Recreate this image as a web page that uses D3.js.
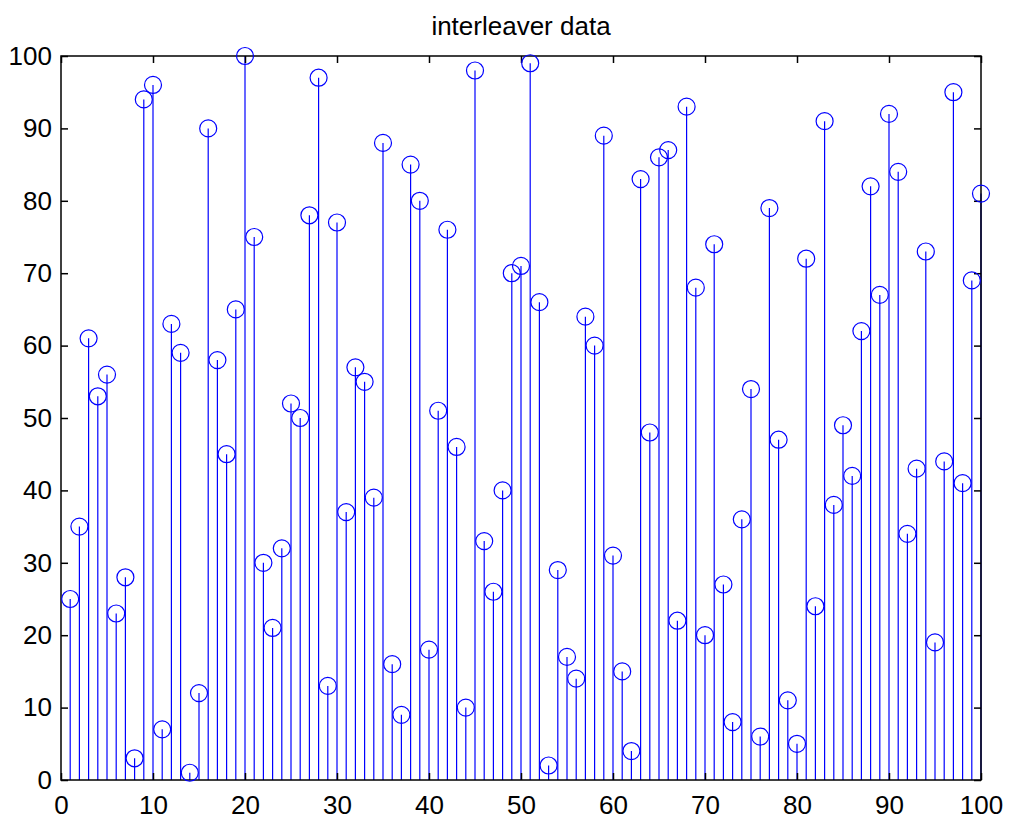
<!DOCTYPE html>
<html lang="en">
<head>
  <meta charset="UTF-8">
  <title>interleaver data</title>
  <script src="https://d3js.org/d3.v7.min.js"></script>
  <style>
    body { margin: 0; background: #fff; }
    svg { display: block; font-family: "Liberation Sans", Arial, sans-serif; }
    .stem { stroke: #0000ff; stroke-width: 1.2px; }
    .head { fill: none; stroke: #0000ff; stroke-width: 1.2px; }
    .axis path { display: none; }
    .axis line { stroke: #000; stroke-width: 1.5px; }
    .axis text { font-size: 26px; fill: #000; }
  </style>
</head>
<body>
<svg width="1010" height="820"></svg>
<script>
const title = "interleaver data";
const xTicks = d3.range(0, 101, 10);
const yTicks = d3.range(0, 101, 10);
// interleaver permutation, index 1..100
const idx = d3.range(1, 101);
const vals = [
  25, 35, 61, 53, 56, 23, 28, 3, 94, 96,
  7, 63, 59, 1, 12, 90, 58, 45, 65, 100,
  75, 30, 21, 32, 52, 50, 78, 97, 13, 77,
  37, 57, 55, 39, 88, 16, 9, 85, 80, 18,
  51, 76, 46, 10, 98, 33, 26, 40, 70, 71,
  99, 66, 2, 29, 17, 14, 64, 60, 89, 31,
  15, 4, 83, 48, 86, 87, 22, 93, 68, 20,
  74, 27, 8, 36, 54, 6, 79, 47, 11, 5,
  72, 24, 91, 38, 49, 42, 62, 82, 67, 92,
  84, 34, 43, 73, 19, 44, 95, 41, 69, 81
];

const svg = d3.select("svg");
const L = 61, T = 56, R = 981, B = 780;
const x = d3.scaleLinear().domain([0, 100]).range([L, R]);
const y = d3.scaleLinear().domain([0, 100]).range([B, T]);
const tk = 7;

const data = idx.map((i, k) => ({ i, v: vals[k] }));

// stems
svg.append("g").selectAll("line").data(data).join("line")
  .attr("class", "stem")
  .attr("x1", d => x(d.i)).attr("x2", d => x(d.i))
  .attr("y1", y(0)).attr("y2", d => y(d.v));

// axes (ticks inside, box on)
svg.append("g").attr("class", "axis")
  .attr("transform", `translate(0,${B})`)
  .call(d3.axisBottom(x).tickValues(xTicks).tickSize(-tk).tickPadding(16).tickFormat(d3.format("d")));
svg.append("g").attr("class", "axis")
  .attr("transform", `translate(0,${T})`)
  .call(d3.axisTop(x).tickValues(xTicks).tickSize(-tk).tickFormat(""));
svg.append("g").attr("class", "axis")
  .attr("transform", `translate(${L},0)`)
  .call(d3.axisLeft(y).tickValues(yTicks).tickSize(-tk).tickPadding(9).tickFormat(d3.format("d")));
svg.append("g").attr("class", "axis")
  .attr("transform", `translate(${R},0)`)
  .call(d3.axisRight(y).tickValues(yTicks).tickSize(-tk).tickFormat(""));

svg.append("rect")
  .attr("x", L).attr("y", T).attr("width", R - L).attr("height", B - T)
  .attr("fill", "none").attr("stroke", "#000").attr("stroke-width", 1.5);

// heads on top of the box
svg.append("g").selectAll("circle").data(data).join("circle")
  .attr("class", "head")
  .attr("cx", d => x(d.i)).attr("cy", d => y(d.v)).attr("r", 8.5);

svg.append("text")
  .attr("x", (L + R) / 2).attr("y", 35)
  .attr("text-anchor", "middle")
  .attr("font-size", "26px")
  .text(title);
</script>
</body>
</html>
